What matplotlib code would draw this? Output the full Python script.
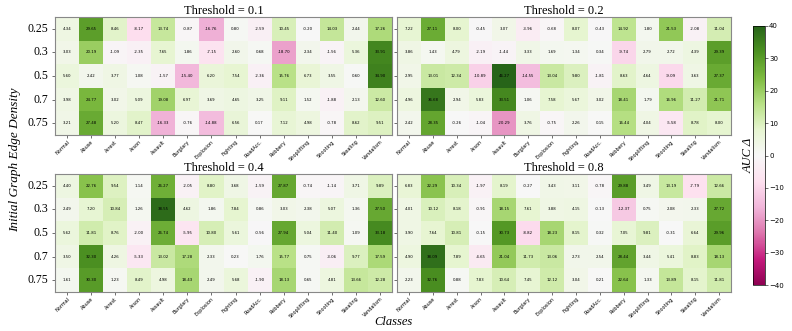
import numpy as np
import matplotlib
matplotlib.use("Agg")
import matplotlib.pyplot as plt
import seaborn as sns

classes = ["Normal", "Abuse", "Arrest", "Arson", "Assault", "Burglary", "Explosion",
           "Fighting", "RoadAcc.", "Robbery", "Shoplifting", "Shooting", "Stealing", "Vandalism"]
densities = ["0.25", "0.3", "0.5", "0.7", "0.75"]
thresholds = ["0.1", "0.2", "0.4", "0.8"]

t01 = [
    [4.34, 29.65, 8.46, -8.17, 13.74, -0.87, -16.76, 0.80, -2.59, 10.45, -0.20, 14.03, 2.44, 17.26],
    [3.03, 20.19, -1.09, -2.35, 7.65, 1.86, -7.15, 2.60, 0.68, -18.70, 2.34, -1.56, 5.36, 33.91],
    [5.60, 2.42, 3.77, 1.08, -1.57, -15.40, 6.20, 7.54, -2.36, 15.76, 6.73, 3.55, 0.60, 34.90],
    [3.98, 24.77, 3.02, 5.09, 19.08, 6.97, 3.69, 4.65, 3.25, 9.11, 1.52, -1.88, 2.13, 12.60],
    [3.21, 27.48, 5.20, 8.47, -16.33, -0.76, -14.88, 6.56, 0.17, 7.12, 4.98, -0.78, 8.62, 9.51],
]
t02 = [
    [7.22, 27.11, 8.00, -0.45, 3.07, -3.96, -0.68, 8.07, -0.43, 14.92, 1.80, 21.53, -2.08, 11.04],
    [3.86, 1.43, 4.79, -2.19, -1.44, 3.33, 1.69, 1.34, 0.34, -9.74, 2.79, 2.72, 4.39, 29.39],
    [2.95, 13.01, 12.34, -10.89, 46.27, -14.55, 13.04, 9.80, -1.81, 8.63, 4.64, -9.09, 3.63, 27.37],
    [4.96, 36.68, 2.94, 5.83, 33.51, 1.06, 7.58, 5.67, 3.02, 18.41, 1.79, 16.96, 11.27, 21.71],
    [2.42, 28.35, -0.26, -1.04, -20.29, 3.76, -0.75, 2.26, 0.15, 16.44, 4.04, -5.58, 8.78, 8.00],
]
t04 = [
    [4.40, 22.76, 9.54, 1.14, 26.27, -2.05, 8.80, 3.68, -1.59, 27.87, -0.74, -1.14, 3.71, 9.89],
    [2.49, 7.20, 10.84, 1.26, 38.55, 4.62, 1.86, 7.84, 0.86, 3.03, 2.38, 5.07, 1.36, 27.50],
    [5.62, 11.81, 8.76, -2.00, 26.74, -5.95, 10.80, 5.61, -0.56, 27.94, 5.04, 11.40, 1.09, 33.18],
    [3.50, 32.30, 4.26, -5.33, 13.02, 17.28, 2.33, 0.23, 1.76, 15.77, 0.75, -3.06, 9.77, 17.59],
    [1.61, 30.30, 1.23, 8.49, 4.98, 18.43, 2.49, 5.68, -1.90, 18.13, 0.65, 4.81, 13.66, 12.28],
]
t08 = [
    [6.83, 22.29, 10.34, -1.97, 8.19, -0.27, 3.43, 3.11, -0.78, 29.88, 3.49, 13.19, -7.79, 12.66],
    [4.01, 10.12, 8.18, -0.91, 18.15, 7.61, 3.88, 4.15, -0.13, -12.37, 0.75, 2.08, 2.33, 27.72],
    [3.90, 7.64, 10.81, -0.15, 30.73, -8.82, 18.23, 8.15, 0.32, 7.05, 9.81, -0.31, 6.64, 29.96],
    [4.90, 38.09, 7.89, -4.65, 21.04, 11.73, 13.06, 2.73, 2.54, 28.44, 3.44, 5.41, 8.83, 18.13],
    [2.23, 32.76, 0.88, 7.83, 10.64, 7.45, 12.12, 3.04, 0.21, 22.64, 1.33, 13.89, 8.15, 11.81],
]
panels = [t01, t02, t04, t08]

serif = ["Liberation Serif", "DejaVu Serif"]

fig = plt.figure(figsize=(7.92, 3.31), dpi=100)
W, H = 792, 331
boxes = [(55, 17, 392, 135), (397, 17, 731, 135), (55, 174, 392, 292), (397, 174, 731, 292)]
cmap = plt.get_cmap("PiYG")
mesh = None
for i, (data, thr, (x0, y0, x1, y1)) in enumerate(zip(panels, thresholds, boxes)):
    ax = fig.add_axes([x0 / W, 1 - y1 / H, (x1 - x0) / W, (y1 - y0) / H])
    arr = np.array(data)
    sns.heatmap(arr, ax=ax, cmap=cmap, vmin=-40, vmax=40, cbar=False, annot=True, fmt=".2f",
                annot_kws={"fontsize": 2.8, "color": "black"},
                xticklabels=classes, yticklabels=densities if i % 2 == 0 else False)
    mesh = ax.collections[0]
    for s in ax.spines.values():
        s.set_visible(True)
        s.set_color("#888888")
        s.set_linewidth(0.8)
    ax.set_title(f"Threshold = {thr}", fontsize=9, family=serif, pad=2)
    ax.tick_params(axis="x", labelsize=3.6, length=2, width=0.4, pad=1)
    ax.tick_params(axis="y", labelsize=8.5, length=2, width=0.4, pad=3)
    for lab in ax.get_xticklabels():
        lab.set_rotation(45)
        lab.set_ha("right")
        lab.set_rotation_mode("anchor")
    for lab in ax.get_yticklabels():
        lab.set_rotation(0)
        lab.set_family(serif)
    if i % 2 == 1:
        ax.set_yticks(np.arange(5) + 0.5)
        ax.set_yticklabels([])

cax = fig.add_axes([753 / W, 1 - 285 / H, 12 / W, 259 / H])
cb = fig.colorbar(mesh, cax=cax)
cb.set_ticks([-40, -30, -20, -10, 0, 10, 20, 30, 40])
cb.ax.tick_params(labelsize=5, length=2, width=0.4, pad=1)
cb.outline.set_linewidth(0.5)
cb.set_label("AUC Δ", fontsize=9, style="italic", family=serif, labelpad=-30)

fig.text(15 / W, 1 - 160 / H, "Initial Graph Edge Density", rotation=90, va="center", ha="center",
         fontsize=9.5, style="italic", family=serif)
fig.text(393 / W, 1 - 322 / H, "Classes", va="center", ha="center",
         fontsize=9, style="italic", family=serif)

fig.savefig("out.png", dpi=100)
